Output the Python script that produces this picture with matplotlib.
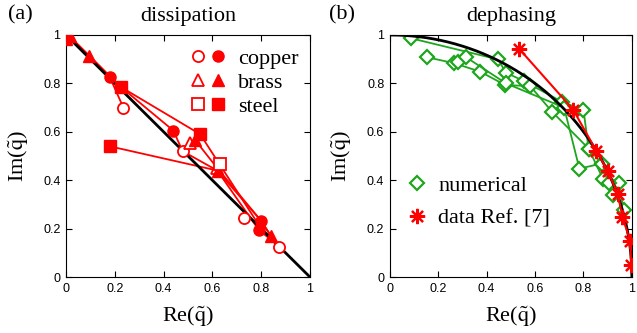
import matplotlib.pyplot as plt
import numpy as np
from matplotlib.legend_handler import HandlerTuple
from matplotlib.lines import Line2D

plt.rcParams["font.family"] = ["Liberation Serif", "DejaVu Serif"]
plt.rcParams["mathtext.fontset"] = "stix"

RED = "#ff0000"
GREEN = "#1ea51e"

# (a) dissipation: markers
copper_open_re = [0.235, 0.478, 0.728, 0.875]
copper_open_im = [0.70, 0.52, 0.245, 0.125]
copper_fill_re = [0.18, 0.44, 0.80, 0.79]
copper_fill_im = [0.825, 0.605, 0.232, 0.195]
brass_open_re = [0.51, 0.62]
brass_open_im = [0.555, 0.45]
brass_fill_re = [0.0, 0.015, 0.095, 0.53, 0.625, 0.84]
brass_fill_im = [0.985, 0.995, 0.915, 0.565, 0.44, 0.17]
steel_open_re = [0.63]
steel_open_im = [0.465]
steel_fill_re = [0.18, 0.225, 0.55]
steel_fill_im = [0.54, 0.785, 0.59]

# (a) connecting traces
diss_traces = [
    ([0.01, 0.095, 0.18, 0.235], [0.99, 0.915, 0.825, 0.70]),
    ([0.015, 0.225, 0.44, 0.478, 0.62, 0.79, 0.875], [0.995, 0.785, 0.605, 0.52, 0.44, 0.195, 0.125]),
    ([0.18, 0.62, 0.80, 0.84], [0.54, 0.44, 0.232, 0.17]),
    ([0.225, 0.55, 0.63, 0.80], [0.785, 0.59, 0.465, 0.20]),
    ([0.53, 0.62, 0.80, 0.84], [0.565, 0.45, 0.232, 0.17]),
]

# (b) dephasing
star_re = [0.535, 0.757, 0.853, 0.90, 0.942, 0.961, 0.993, 0.997]
star_im = [0.942, 0.692, 0.521, 0.439, 0.342, 0.248, 0.149, 0.051]

num_traces = [
    ([0.089, 0.447, 0.48, 0.553, 0.711, 0.80, 0.821, 0.88, 0.945, 0.966],
     [0.986, 0.899, 0.844, 0.81, 0.724, 0.69, 0.531, 0.407, 0.389, 0.276]),
    ([0.154, 0.267, 0.374, 0.477, 0.58, 0.67, 0.821, 0.876, 0.921],
     [0.908, 0.883, 0.848, 0.793, 0.789, 0.683, 0.531, 0.469, 0.338]),
    ([0.28, 0.315, 0.48, 0.72, 0.783, 0.876, 0.904],
     [0.89, 0.908, 0.80, 0.70, 0.448, 0.469, 0.389]),
]


def style_axes(ax):
    ax.set_xlim(0, 1)
    ax.set_ylim(0, 1)
    ticks = [0, 0.2, 0.4, 0.6, 0.8, 1]
    labels = ["0", "0.2", "0.4", "0.6", "0.8", "1"]
    ax.set_xticks(ticks, labels)
    ax.set_yticks(ticks, labels)
    ax.tick_params(direction="in", top=True, right=True, length=4, width=0.8,
                   labelsize=9, pad=4)
    for lab in ax.get_xticklabels() + ax.get_yticklabels():
        lab.set_fontfamily("Liberation Sans")
    ax.set_xlabel(r"Re($\tilde{\mathrm{q}}$)", fontsize=16, labelpad=7)
    ax.set_ylabel(r"Im($\tilde{\mathrm{q}}$)", fontsize=16, labelpad=9)


fig = plt.figure(figsize=(6.37, 3.33), dpi=100)
ax1 = fig.add_axes([0.1036, 0.168, 0.383, 0.727])
ax2 = fig.add_axes([0.612, 0.168, 0.380, 0.727])

# ---- (a)
for re, im in diss_traces:
    ax1.plot(re, im, color=RED, lw=1.3, zorder=2)
x = np.linspace(0, 1, 2)
ax1.plot(x, 1 - x, color="black", lw=2, zorder=3)
ms = 8
ax1.plot(copper_open_re, copper_open_im, "o", ms=ms, mfc="white", mec=RED, mew=1.3, ls="none", zorder=4)
ax1.plot(copper_fill_re, copper_fill_im, "o", ms=ms, color=RED, ls="none", zorder=4)
ax1.plot(brass_open_re, brass_open_im, "^", ms=ms, mfc="white", mec=RED, mew=1.3, ls="none", zorder=4)
ax1.plot(brass_fill_re, brass_fill_im, "^", ms=ms, color=RED, ls="none", zorder=4)
ax1.plot(steel_open_re, steel_open_im, "s", ms=ms, mfc="white", mec=RED, mew=1.3, ls="none", zorder=4)
ax1.plot(steel_fill_re, steel_fill_im, "s", ms=ms, color=RED, ls="none", zorder=4)

handles = []
for m in ["o", "^", "s"]:
    h_open = Line2D([], [], marker=m, ms=ms, mfc="white", mec=RED, mew=1.3, ls="none")
    h_fill = Line2D([], [], marker=m, ms=ms, color=RED, ls="none")
    handles.append((h_open, h_fill))
ax1.legend(handles, ["copper", "brass", "steel"], loc="upper right",
           handler_map={tuple: HandlerTuple(ndivide=None, pad=0.3)},
           frameon=False, fontsize=16, handlelength=1.5, handletextpad=0.6,
           labelspacing=0.15, borderaxespad=0.0, bbox_to_anchor=(0.99, 0.98))
style_axes(ax1)
ax1.set_title("dissipation", fontsize=16, pad=10)
fig.text(0.013, 0.955, "(a)", fontsize=16, va="center")

# ---- (b)
for re, im in num_traces:
    ax2.plot(re, im, color=GREEN, lw=1.3, marker="D", ms=7.5, mfc="white",
             mec=GREEN, mew=1.6, zorder=2)
t = np.linspace(0, 1, 400)
ax2.plot(t, np.sqrt(1 - t ** 2), color="black", lw=2, zorder=3)
ax2.plot(star_re, star_im, color=RED, lw=1.5, marker=(8, 2, 0), ms=11, mew=1.6,
         zorder=4)
h_num = Line2D([], [], ls="none", marker="D", ms=7.5, mfc="white", mec=GREEN, mew=1.6)
h_dat = Line2D([], [], ls="none", marker=(8, 2, 0), ms=11, mec=RED, mew=1.6)
ax2.legend([h_num, h_dat], ["numerical", "data Ref. [7]"], loc="center left",
           bbox_to_anchor=(-0.025, 0.31), frameon=False, fontsize=16,
           handlelength=1.2, handletextpad=0.35, labelspacing=0.55)
style_axes(ax2)
ax2.set_title("dephasing", fontsize=16, pad=10)
fig.text(0.517, 0.955, "(b)", fontsize=16, va="center")

fig.savefig("out.png", dpi=100)
